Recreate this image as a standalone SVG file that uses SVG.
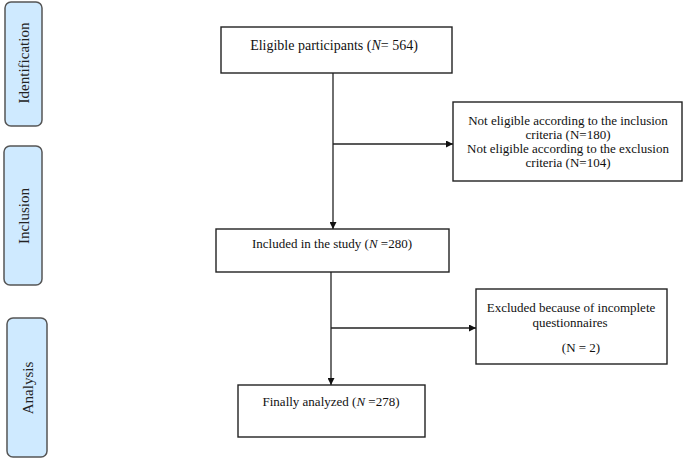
<svg xmlns="http://www.w3.org/2000/svg" width="685" height="461" viewBox="0 0 685 461">
<style>
.stage{fill:#cfeaff;stroke:#555;stroke-width:1.5}
.stxt{font-family:"Liberation Serif",serif;font-size:15px;fill:#222;text-anchor:middle}
.box{fill:#fff;stroke:#222;stroke-width:1.4}
.t{font-family:"Liberation Serif",serif;font-size:13px;fill:#111;text-anchor:middle}
.c{stroke:#222;stroke-width:1.3;fill:none}
</style>
<defs>
<marker id="ah" viewBox="0 0 10 10" refX="10" refY="5" markerWidth="7" markerHeight="7" markerUnits="userSpaceOnUse" orient="auto">
<path d="M0,0 L10,5 L0,10 z" fill="#111"/>
</marker>
</defs>
<g id="stage-identification">
<rect class="stage" x="5" y="2" width="37" height="124" rx="6"/>
<text class="stxt" transform="translate(29,63) rotate(-90)">Identification</text>
</g>
<g id="stage-inclusion">
<rect class="stage" x="4" y="146" width="38" height="139" rx="6"/>
<text class="stxt" transform="translate(29,216) rotate(-90)">Inclusion</text>
</g>
<g id="stage-analysis">
<rect class="stage" x="7" y="318" width="40" height="139" rx="6"/>
<text class="stxt" transform="translate(33,388) rotate(-90)">Analysis</text>
</g>
<g id="eligible">
<rect class="box" x="221" y="27" width="231" height="46"/>
<text class="t" x="334" y="50" style="font-size:14px">Eligible  participants (<tspan font-style="italic">N</tspan>= 564)</text>
</g>
<g id="not-eligible">
<rect class="box" x="453" y="102" width="229" height="79"/>
<text class="t" x="568" y="125">Not eligible  according  to the inclusion</text>
<text class="t" x="568" y="139">criteria (N=180)</text>
<text class="t" x="568" y="153">Not eligible  according  to the exclusion</text>
<text class="t" x="568" y="167">criteria (N=104)</text>
</g>
<g id="included">
<rect class="box" x="216" y="229" width="233" height="43"/>
<text class="t" x="332" y="248">Included in the study (<tspan font-style="italic">N</tspan> =280)</text>
</g>
<g id="excluded">
<rect class="box" x="476" y="289" width="191" height="75"/>
<text class="t" x="571" y="312">Excluded  because of incomplete</text>
<text class="t" x="570" y="327">questionnaires</text>
<text class="t" x="581" y="352">(N = 2)</text>
</g>
<g id="finally">
<rect class="box" x="238" y="385" width="187" height="52"/>
<text class="t" x="331" y="406">Finally analyzed (<tspan font-style="italic">N</tspan> =278)</text>
</g>
<g id="connectors">
<path class="c" d="M333,73 V229" marker-end="url(#ah)"/>
<path class="c" d="M333,144 H453" marker-end="url(#ah)"/>
<path class="c" d="M331,272 V385" marker-end="url(#ah)"/>
<path class="c" d="M331,328 H476" marker-end="url(#ah)"/>
</g>
</svg>
